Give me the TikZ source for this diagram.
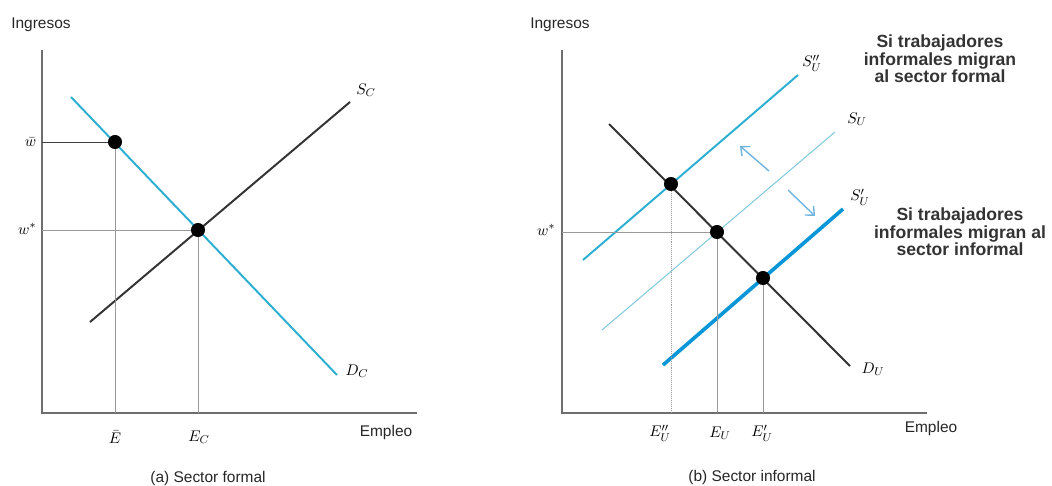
\documentclass[tikz,border=0pt]{standalone}
\usepackage{fontspec}
\setmainfont{Liberation Sans}
\usetikzlibrary{arrows.meta}

\definecolor{cyanline}{RGB}{45,175,210}
\definecolor{paleline}{RGB}{125,200,220}
\definecolor{blueline}{RGB}{10,150,215}
\definecolor{axisgray}{RGB}{110,110,110}

\tikzset{
  axis/.style={draw=axisgray, line width=1.1pt},
  guide/.style={draw=gray!80, line width=0.4pt},
  demand/.style={line width=1.4pt},
  dot/.style={circle, fill=black, inner sep=0pt, minimum size=10pt},
  axlabel/.style={font=\fontsize{11}{12}\selectfont, text=black!85},
  curvelabel/.style={font=\fontsize{11}{12}\selectfont, inner sep=1pt},
  note/.style={font=\fontsize{12.5}{12.5}\bfseries\selectfont, align=center, text=black!80}
}

\begin{document}
\begin{tikzpicture}[x=0.025cm, y=-0.025cm]
  \useasboundingbox (0,0) rectangle (1052,486);

  % Panel (a): formal sector
  \coordinate (oA) at (42,413);
  \coordinate (yA) at (42,50);
  \coordinate (xA) at (417,413);
  \draw[axis] (yA) -- (oA) -- (xA);
  \node[axlabel] (ingA) at (41,25) {Ingresos};
  \node[axlabel] (empA) at (386,432) {Empleo};
  \node[axlabel] (capA) at (208,478) {(a) Sector formal};

  \coordinate (dc1) at (71,97);
  \coordinate (dc2) at (337,375);
  \coordinate (sc1) at (90,322);
  \coordinate (sc2) at (350,102);
  \draw[demand, cyanline] (dc1) -- (dc2);
  \draw[demand, black!80] (sc1) -- (sc2);
  \node[curvelabel] (lsc) at (366,90) {$S_C$};
  \node[curvelabel] (ldc) at (357,371) {$D_C$};

  \node[dot] (wbar) at (115,142) {};
  \node[dot] (eqA) at (198,230) {};
  \coordinate (wbarax) at (42,142);
  \coordinate (wstarA) at (42,230);
  \coordinate (ebarax) at (115,413);
  \coordinate (ecax) at (198,413);
  \draw[draw=black!75, line width=0.7pt] (wbarax) -- (wbar);
  \draw[guide] (wstarA) -- (eqA);
  \draw[guide] (wbar) -- (ebarax);
  \draw[guide] (eqA) -- (ecax);
  \node[curvelabel, left] (lwbar) at (38,142) {$\bar{w}$};
  \node[curvelabel, left] (lwstarA) at (38,229) {$w^*$};
  \node[curvelabel] (lebar) at (115,437) {$\bar{E}$};
  \node[curvelabel] (lec) at (199,437) {$E_C$};

  % Panel (b): informal sector
  \coordinate (oB) at (562,413);
  \coordinate (yB) at (562,50);
  \coordinate (xB) at (927,413);
  \draw[axis] (yB) -- (oB) -- (xB);
  \node[axlabel] (ingB) at (560,25) {Ingresos};
  \node[axlabel] (empB) at (931,428) {Empleo};
  \node[axlabel] (capB) at (752,477) {(b) Sector informal};

  \coordinate (du1) at (609,124);
  \coordinate (du2) at (850,366);
  \coordinate (su1) at (602,330);
  \coordinate (su2) at (835,132);
  \coordinate (sdd1) at (583,260);
  \coordinate (sdd2) at (798,75);
  \coordinate (sd1) at (663,365);
  \coordinate (sd2) at (843,209);
  \draw[line width=0.7pt, paleline] (su1) -- (su2);
  \draw[demand, cyanline] (sdd1) -- (sdd2);
  \draw[line width=2.6pt, blueline] (sd1) -- (sd2);
  \draw[demand, black!80] (du1) -- (du2);
  \node[curvelabel] (lsdd) at (812,63) {$S''_U$};
  \node[curvelabel] (lsu) at (857,119) {$S_U$};
  \node[curvelabel] (lsd) at (860,197) {$S'_U$};
  \node[curvelabel] (ldu) at (873,369) {$D_U$};

  \node[dot] (eqF) at (671,184) {};
  \node[dot] (eqB) at (717,232) {};
  \node[dot] (eqI) at (763,278) {};
  \coordinate (wstarB) at (562,232);
  \coordinate (efax) at (671,413);
  \coordinate (ebax) at (717,413);
  \coordinate (eiax) at (763,413);
  \draw[guide] (wstarB) -- (eqB);
  \draw[guide, densely dotted] (eqF) -- (efax);
  \draw[guide] (eqB) -- (ebax);
  \draw[guide] (eqI) -- (eiax);
  \node[curvelabel, left] (lwstarB) at (557,230) {$w^*$};
  \node[curvelabel] (lef) at (660,433) {$E''_U$};
  \node[curvelabel] (leb) at (720,433) {$E_U$};
  \node[curvelabel] (lei) at (762,433) {$E'_U$};

  % shift arrows
  \coordinate (up1) at (769,171);
  \coordinate (up2) at (740,146);
  \coordinate (dn1) at (788,190);
  \coordinate (dn2) at (815,216);
  \draw[paleline!90!blue, line width=1pt, -{Straight Barb[length=5pt, width=9pt]}] (up1) -- (up2);
  \draw[paleline!90!blue, line width=1pt, -{Straight Barb[length=5pt, width=9pt]}] (dn1) -- (dn2);

  \node[note] (toformal) at (940,59) {Si trabajadores\\informales migran\\al sector formal};
  \node[note] (toinformal) at (960,232) {Si trabajadores\\informales migran al\\sector informal};
\end{tikzpicture}
\end{document}
